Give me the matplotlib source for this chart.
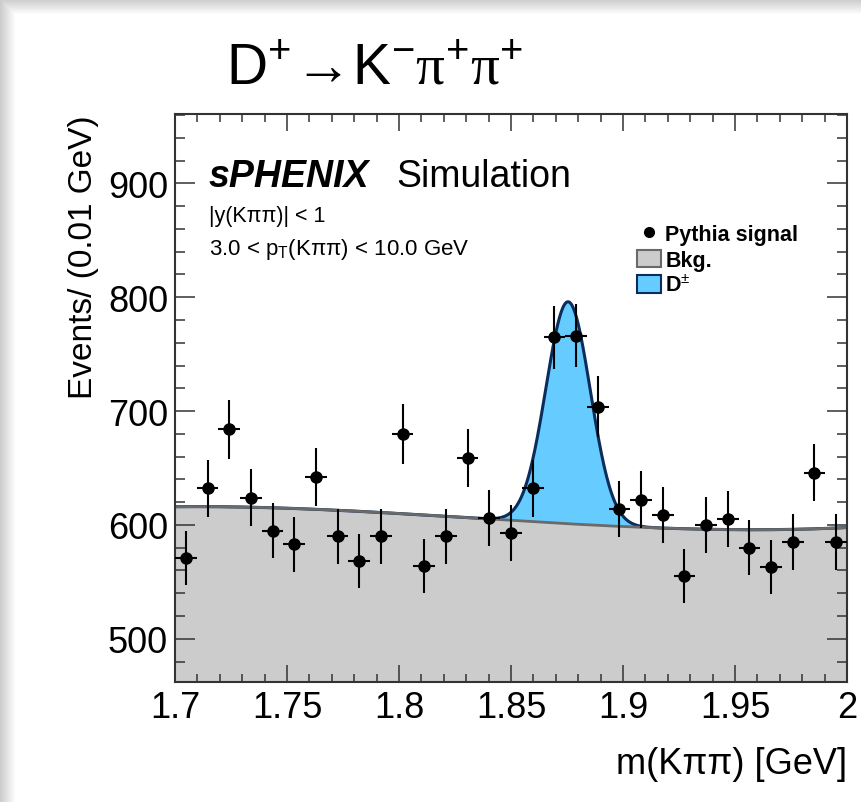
import numpy as np
import matplotlib
matplotlib.use("Agg")
import matplotlib.pyplot as plt
from matplotlib.lines import Line2D
from matplotlib.patches import Patch
from matplotlib.ticker import MultipleLocator

plt.rcParams['font.family'] = ['Liberation Sans', 'DejaVu Sans']
plt.rcParams['mathtext.fontset'] = 'custom'
plt.rcParams['mathtext.rm'] = 'Liberation Sans'
plt.rcParams['mathtext.it'] = 'Liberation Sans:italic'
plt.rcParams['mathtext.bf'] = 'Liberation Sans:bold'
plt.rcParams['mathtext.cal'] = 'Liberation Serif'

# ---- data: Kpipi invariant mass spectrum ----
x_lo, x_hi = 1.7, 2.0
n_bins = 31
counts = [571, 632, 684, 624, 595, 583, 642, 590, 568, 590, 680, 564, 590, 659, 606,
          593, 632, 765, 766, 704, 614, 622, 609, 555, 600, 605, 580, 563, 585, 646, 585]

# fit model: cubic background in (m - 1.7) plus Gaussian D+ peak
bkg_coeffs = [616.0, 20.0, -1065.0, 2650.0]
sig_mean = 1.8755
sig_sigma = 0.0099
sig_peak = 195.0

y_lo, y_hi = 462, 961
x_ticks = [1.7, 1.75, 1.8, 1.85, 1.9, 1.95, 2.0]
x_ticklabels = ['1.7', '1.75', '1.8', '1.85', '1.9', '1.95', '2']
y_ticks = [500, 600, 700, 800, 900]

legend_labels = ['Pythia signal', 'Bkg.', r'D$^{\pm}$']

c_bkg = '#cccccc'
c_bkg_line = '#6a6a6a'
c_sig = '#66ccff'
c_sig_line = '#0b2d5c'
c_axis = '#333333'

W, H = 861, 803
fig = plt.figure(figsize=(W / 100, H / 100), dpi=100)

# soft page shadow along the left and top edges
bg = np.ones((H, W, 3))
ramp = np.clip(np.arange(16) / 15.0, 0, 1)
shade = 0.80 + 0.20 * ramp
for i, s in enumerate(shade):
    bg[:, i, :] = np.minimum(bg[:, i, :], s)
    bg[H - 1 - i, :, :] = np.minimum(bg[H - 1 - i, :, :], s)
fig.figimage(bg, xo=0, yo=0, zorder=0, origin='lower')

ax = fig.add_axes([175 / W, 1 - 683 / H, 672 / W, 568 / H])
ax.set_zorder(1)

edges = np.linspace(x_lo, x_hi, n_bins + 1)
centers = 0.5 * (edges[:-1] + edges[1:])
half_w = 0.5 * (edges[1:] - edges[:-1])
counts = np.asarray(counts, dtype=float)

m = np.linspace(x_lo, x_hi, 800)
bkg = np.polyval(bkg_coeffs[::-1], m - x_lo)
sig = sig_peak * np.exp(-0.5 * ((m - sig_mean) / sig_sigma) ** 2)
total = bkg + sig

ax.fill_between(m, y_lo - 50, bkg, color=c_bkg, lw=0, zorder=1)
ax.fill_between(m, bkg, total, where=sig > 0.3, color=c_sig, lw=0, zorder=1)
ax.plot(m, total, color=c_sig_line, lw=2.2, zorder=2)
ax.plot(m, bkg, color=c_bkg_line, lw=2.0, zorder=2.1)

ax.errorbar(centers, counts, yerr=np.sqrt(counts), xerr=half_w, fmt='o',
            color='black', ms=8, elinewidth=1.5, capsize=0, zorder=3)

ax.set_xlim(x_lo, x_hi)
ax.set_ylim(y_lo, y_hi)
ax.set_xticks(x_ticks)
ax.set_xticklabels(x_ticklabels)
ax.set_yticks(y_ticks)
ax.xaxis.set_minor_locator(MultipleLocator(0.01))
ax.yaxis.set_minor_locator(MultipleLocator(20))
ax.tick_params(axis='both', which='both', direction='in', top=True, right=True,
               colors=c_axis, labelcolor='black', width=1.1, labelsize=26)
ax.tick_params(axis='x', which='major', length=12, pad=6)
ax.tick_params(axis='x', which='minor', length=6)
ax.tick_params(axis='y', which='major', length=14.5, pad=5)
ax.tick_params(axis='y', which='minor', length=7.5)
for sp in ax.spines.values():
    sp.set_color(c_axis)
    sp.set_linewidth(1.5)

ax.set_ylabel('Events/ (0.01 GeV)', fontsize=24, loc='top')
ax.yaxis.set_label_coords(-0.113, 1.0)
ax.set_xlabel('m(K\u03c0\u03c0) [GeV]', fontsize=26, loc='right')
ax.xaxis.set_label_coords(1.0, -0.112)

# experiment tag and selection
ax.text(0.05, 0.873, 'sPHENIX', transform=ax.transAxes, fontsize=27,
        fontweight='bold', fontstyle='italic', va='baseline')
ax.text(0.330, 0.873, 'Simulation', transform=ax.transAxes, fontsize=27, va='baseline')
ax.text(0.05, 0.812, '|y(K\u03c0\u03c0)| < 1', transform=ax.transAxes, fontsize=15.5,
        va='baseline')
ax.text(0.05, 0.754, '3.0 < p$_{\\mathrm{T}}$(K\u03c0\u03c0) < 10.0 GeV',
        transform=ax.transAxes, fontsize=16, va='baseline')

handles = [
    Line2D([], [], marker='o', color='black', ms=7, lw=0),
    Patch(facecolor=c_bkg, edgecolor=c_bkg_line, lw=1.5),
    Patch(facecolor=c_sig, edgecolor=c_sig_line, lw=1.5),
]
ax.legend(handles, legend_labels, loc='upper left', bbox_to_anchor=(0.688, 0.806),
          frameon=False, prop={'weight': 'bold', 'size': 15.5}, handlelength=1.1,
          handleheight=0.85, handletextpad=0.2, labelspacing=0.2,
          borderaxespad=0, borderpad=0)

fig.text(374 / W, 1 - 84 / H,
         r'$\mathrm{D}^{+}\!\rightarrow\!\mathrm{K}^{-}\mathcal{\pi}^{+}\mathcal{\pi}^{+}$',
         fontsize=41, ha='center', va='baseline')

fig.savefig('out.png', dpi=100)
